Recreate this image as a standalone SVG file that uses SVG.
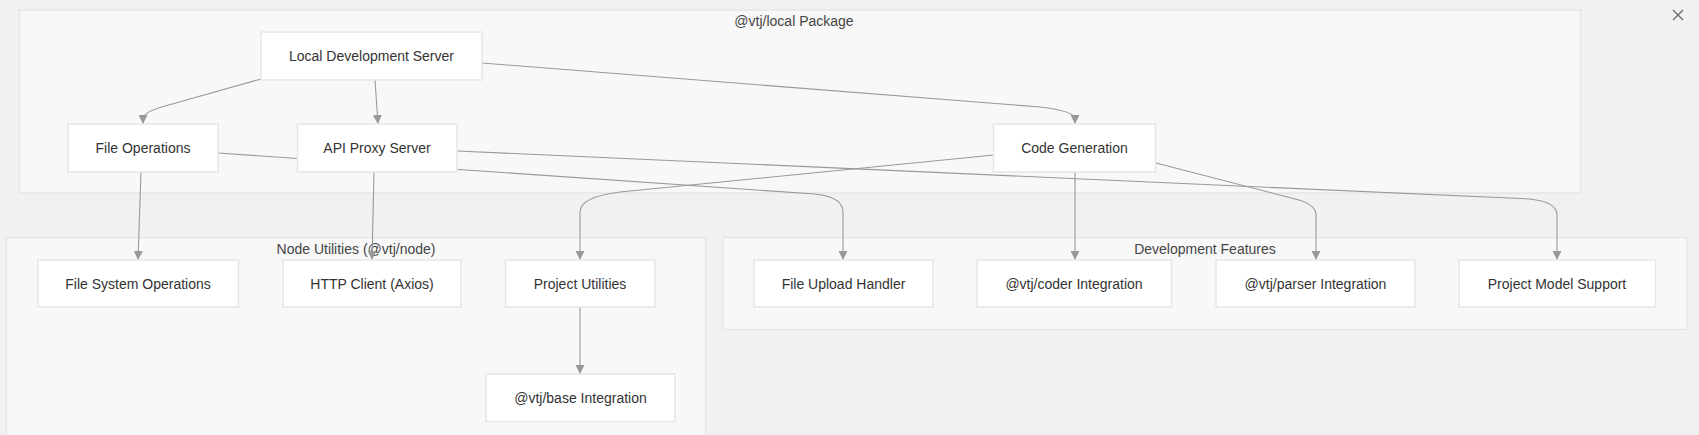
<svg xmlns="http://www.w3.org/2000/svg" width="1699" height="435" viewBox="0 0 1699 435">
<defs>
<style>
.bg{fill:#f2f1ef}
.cl{fill:#f8f8f8;stroke:#e6e6e6;stroke-width:1.5}
.nd{fill:#ffffff;stroke:#e6e6e6;stroke-width:1.5}
.t{font-family:"Liberation Sans",Arial,sans-serif;font-size:14px;fill:#333;text-anchor:middle}
.ct{font-family:"Liberation Sans",Arial,sans-serif;font-size:14px;fill:#444;text-anchor:middle}
.e{fill:none;stroke:#999;stroke-width:1.1;marker-end:url(#ah)}
</style>
<marker id="ah" viewBox="0 0 10 10" refX="10" refY="5" markerWidth="9" markerHeight="9" markerUnits="userSpaceOnUse" orient="auto">
<path d="M0,0 L10,5 L0,10 z" fill="#999"/>
</marker>
</defs>
<rect class="bg" x="0" y="0" width="1699" height="435"/>
<g id="close">
<path d="M1673,10 L1683,20 M1683,10 L1673,20" stroke="#666" stroke-width="1.2" fill="none"/>
</g>
<g id="cluster-local">
<rect class="cl" x="19.5" y="10" width="1561" height="183"/>
<text class="ct" x="794" y="26">@vtj/local Package</text>
</g>
<g id="cluster-node">
<rect class="cl" x="6.5" y="237.5" width="699" height="210"/>
<text class="ct" x="356" y="254">Node Utilities (@vtj/node)</text>
</g>
<g id="cluster-dev">
<rect class="cl" x="723" y="237.5" width="964" height="92"/>
<text class="ct" x="1205" y="254">Development Features</text>
</g>
<g id="edges">
<path class="e" d="M261,79 L165,106 Q143,112 143,119 L143,124"/>
<path class="e" d="M375,80 L378,124"/>
<path class="e" d="M482,63 L1040,107 Q1075,111 1075,119 L1075,124"/>
<path class="e" d="M141,172 L138,260"/>
<path class="e" d="M218,153 L815,194 Q843,197 843,212 L843,260"/>
<path class="e" d="M374,172 L372,260"/>
<path class="e" d="M457,151 L1530,199 Q1557,202 1557,215 L1557,260"/>
<path class="e" d="M994,155 L620,192 Q580,197 580,212 L580,260"/>
<path class="e" d="M1075,172 L1075,260"/>
<path class="e" d="M1156,163 L1295,199 Q1316,204 1316,215 L1316,260"/>
<path class="e" d="M580,307 L580,374"/>
</g>
<g id="n-lds">
<rect class="nd" x="261" y="32" width="221" height="48"/>
<text class="t" x="371.5" y="61">Local Development Server</text>
</g>
<g id="n-fo">
<rect class="nd" x="68" y="124" width="150" height="48"/>
<text class="t" x="143" y="153">File Operations</text>
</g>
<g id="n-api">
<rect class="nd" x="297.5" y="124" width="159.5" height="48"/>
<text class="t" x="377" y="153">API Proxy Server</text>
</g>
<g id="n-cg">
<rect class="nd" x="993.5" y="124" width="162" height="48"/>
<text class="t" x="1074.5" y="153">Code Generation</text>
</g>
<g id="n-fso">
<rect class="nd" x="38" y="260" width="200.5" height="47"/>
<text class="t" x="138" y="288.5">File System Operations</text>
</g>
<g id="n-http">
<rect class="nd" x="283" y="260" width="178" height="47"/>
<text class="t" x="372" y="288.5">HTTP Client (Axios)</text>
</g>
<g id="n-pu">
<rect class="nd" x="505.5" y="260" width="149.5" height="47"/>
<text class="t" x="580" y="288.5">Project Utilities</text>
</g>
<g id="n-base">
<rect class="nd" x="486" y="374" width="189" height="47.5"/>
<text class="t" x="580.5" y="402.5">@vtj/base Integration</text>
</g>
<g id="n-fuh">
<rect class="nd" x="754" y="260" width="179" height="47"/>
<text class="t" x="843.5" y="288.5">File Upload Handler</text>
</g>
<g id="n-coder">
<rect class="nd" x="977" y="260" width="194.5" height="47"/>
<text class="t" x="1074" y="288.5">@vtj/coder Integration</text>
</g>
<g id="n-parser">
<rect class="nd" x="1216" y="260" width="199" height="47"/>
<text class="t" x="1315.5" y="288.5">@vtj/parser Integration</text>
</g>
<g id="n-pms">
<rect class="nd" x="1459" y="260" width="196.5" height="47"/>
<text class="t" x="1557" y="288.5">Project Model Support</text>
</g>
</svg>
